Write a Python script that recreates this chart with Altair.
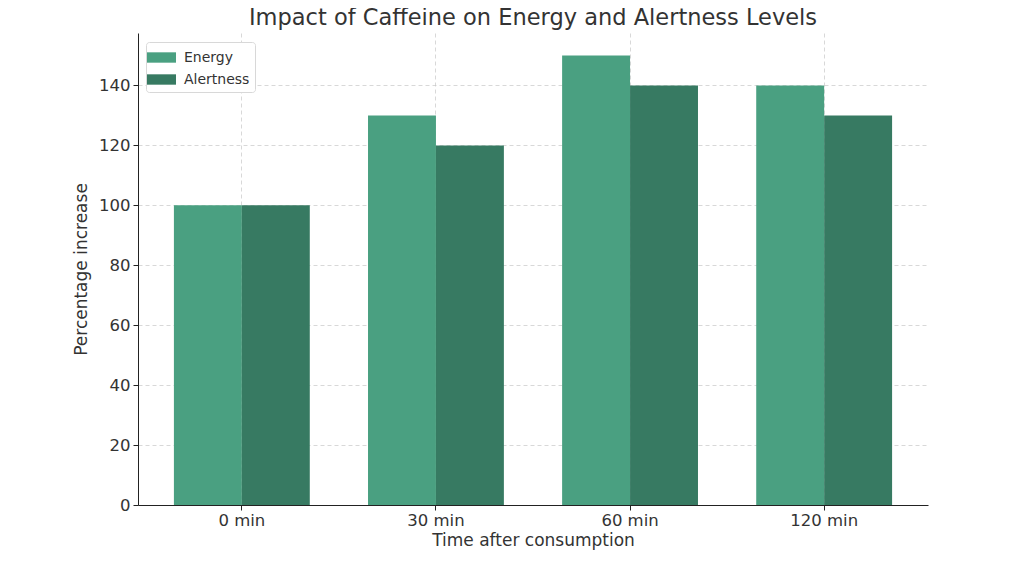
import altair as alt
import pandas as pd

times = ["0 min", "30 min", "60 min", "120 min"]
energy = [100, 130, 150, 140]
alertness = [100, 120, 140, 130]
series = ["Energy", "Alertness"]
colors = ["#4aa081", "#377a62"]
y_ticks = [0, 20, 40, 60, 80, 100, 120, 140]

rows = []
for t, e, a in zip(times, energy, alertness):
    rows.append({"time": t, "series": "Energy", "value": e})
    rows.append({"time": t, "series": "Alertness", "value": a})
df = pd.DataFrame(rows)

font = "DejaVu Sans"
txt = "#333333"

chart = alt.Chart(df).mark_bar(opacity=1).encode(
    x=alt.X("time:N", sort=times,
            scale=alt.Scale(paddingInner=0.3, paddingOuter=0.185),
            axis=alt.Axis(title="Time after consumption", labelAngle=0,
                          grid=True, bandPosition=0.5, tickSize=5,
                          labelFontSize=16.5, titleFontSize=17,
                          labelPadding=2, titlePadding=4)),
    xOffset=alt.XOffset("series:N", sort=series, scale=alt.Scale(paddingInner=0, paddingOuter=0)),
    y=alt.Y("value:Q", scale=alt.Scale(domain=[0, 157.5], nice=False),
            axis=alt.Axis(title="Percentage increase", values=y_ticks, tickSize=5,
                          labelFontSize=16.5, titleFontSize=17, labelPadding=3,
                          titlePadding=8)),
    color=alt.Color("series:N", sort=series,
                    scale=alt.Scale(domain=series, range=colors),
                    legend=alt.Legend(title=None, orient="none", legendX=8, legendY=9,
                                      symbolType="M-1.4,-0.5H1.4V0.5H-1.4Z",
                                      symbolSize=430, symbolStrokeWidth=0,
                                      labelFontSize=14, rowPadding=4,
                                      labelOffset=12,
                                      padding=5, fillColor="white",
                                      strokeColor="#d8d8d8", cornerRadius=3,
                                      symbolOpacity=1)),
).properties(
    width=790, height=472,
    title=alt.TitleParams("Impact of Caffeine on Energy and Alertness Levels",
                          fontSize=22.5, font=font, fontWeight="normal", color=txt,
                          anchor="middle", offset=4),
    autosize=alt.AutoSizeParams(type="none"),
    padding={"left": 130, "top": 25, "right": 88, "bottom": 51},
).configure_view(stroke=None).configure_axis(
    labelFont=font, titleFont=font, labelColor=txt, titleColor=txt,
    titleFontWeight="normal", domainColor="#222222", tickColor="#222222",
    gridColor="#c8c8c8", gridDash=[4, 3], gridOpacity=0.7, zindex=1,
).configure_legend(labelFont=font, labelColor=txt)

chart.save("out.html", embed_options={"renderer": "svg", "actions": False})
